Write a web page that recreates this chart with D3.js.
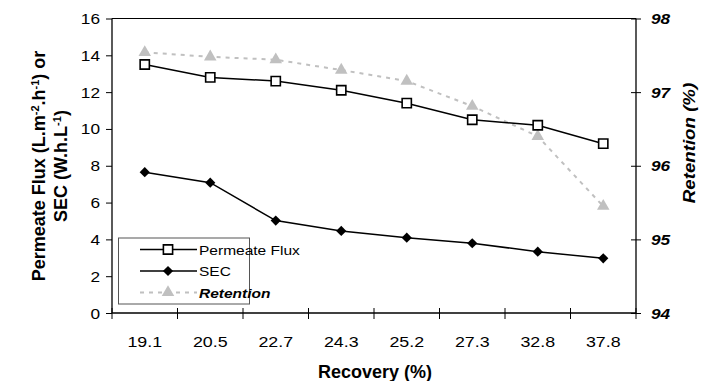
<!DOCTYPE html>
<html>
<head>
<meta charset="utf-8">
<script src="https://cdn.jsdelivr.net/npm/d3@7"></script>
<style>
  body { margin: 0; background: #fff; }
  text { font-family: "Liberation Sans", Arial, sans-serif; }
</style>
</head>
<body>
<div id="chart"></div>
<script>
const recovery = ['19.1', '20.5', '22.7', '24.3', '25.2', '27.3', '32.8', '37.8'];
const permeateFlux = [13.5, 12.8, 12.6, 12.1, 11.4, 10.5, 10.2, 9.2];
const sec = [7.65, 7.08, 5.02, 4.46, 4.09, 3.79, 3.33, 2.97];
const retention = [97.54, 97.48, 97.44, 97.30, 97.15, 96.81, 96.40, 95.45];
const leftTicks = [0, 2, 4, 6, 8, 10, 12, 14, 16];
const rightTicks = [94, 95, 96, 97, 98];

const width = 704, height = 381;
const m = { left: 112, right: 636, top: 18.5, bottom: 313 };
const sx = 1.15; // tick text in the picture is stretched sideways

const svg = d3.select('#chart').append('svg')
  .attr('width', width)
  .attr('height', height);

const x = d3.scaleBand().domain(recovery).range([m.left, m.right]);
const y = d3.scaleLinear().domain([0, 16]).range([m.bottom, m.top]);
const y2 = d3.scaleLinear().domain([94, 98]).range([m.bottom, m.top]);
const cx = d => x(d) + x.bandwidth() / 2;

// text helper, optional sideways stretch
function label(g, tx, ty, str, opts) {
  const s = opts.sx == null ? sx : opts.sx;
  const t = g.append('text')
    .attr('transform', `translate(${tx},${ty})` + (opts.rot ? ' rotate(-90)' : '') + ` scale(${s},1)`)
    .attr('text-anchor', opts.anchor || 'start')
    .attr('font-size', opts.size || 15)
    .attr('font-weight', opts.bold ? 'bold' : 'normal')
    .attr('font-style', opts.italic ? 'italic' : 'normal')
    .attr('fill', '#000');
  if (opts.html) t.html(str); else t.text(str);
  return t;
}

// frame
svg.append('line').attr('x1', m.left).attr('x2', m.right).attr('y1', m.top).attr('y2', m.top)
  .attr('stroke', '#000').attr('stroke-width', 1);

// left axis
const gl = svg.append('g').attr('transform', `translate(${m.left},0)`);
gl.call(d3.axisLeft(y).tickValues(leftTicks).tickSize(6).tickFormat(''));
gl.select('.domain').attr('stroke-width', 1.3).attr('d', `M0,${m.top}V${m.bottom}`);
leftTicks.forEach(v => label(svg, m.left - 12, y(v) + 5.5, v, { anchor: 'end', size: 15 }));

// right axis
const gr = svg.append('g').attr('transform', `translate(${m.right},0)`);
gr.call(d3.axisRight(y2).tickValues(rightTicks).tickSize(5).tickFormat(''));
gr.selectAll('.tick line').attr('x1', -5);
gr.select('.domain').attr('stroke-width', 1.3).attr('d', `M0,${m.top}V${m.bottom}`);
rightTicks.forEach(v => label(svg, m.right + 15, y2(v) + 5.5, v, { size: 15, bold: true, italic: true }));

// bottom axis, ticks at category boundaries
const xb = svg.append('g');
xb.append('line').attr('x1', m.left).attr('x2', m.right).attr('y1', m.bottom).attr('y2', m.bottom)
  .attr('stroke', '#000').attr('stroke-width', 1.3);
xb.selectAll('.xt').data(recovery.concat(['end']))
  .enter().append('line')
  .attr('x1', (d, i) => i < recovery.length ? x(d) : m.right)
  .attr('x2', (d, i) => i < recovery.length ? x(d) : m.right)
  .attr('y1', m.bottom - 5).attr('y2', m.bottom + 6)
  .attr('stroke', '#000').attr('stroke-width', 1);
recovery.forEach(d => label(svg, cx(d), 346.5, d, { anchor: 'middle', size: 15.5 }));

// axis titles
label(svg, 375, 378, 'Recovery (%)', { anchor: 'middle', size: 18, bold: true, sx: 1 });
label(svg, 44.5, 166, 'Permeate Flux (L.m<tspan dy="-6" font-size="11">-2</tspan><tspan dy="6">.h</tspan><tspan dy="-6" font-size="11">-1</tspan><tspan dy="6">) or</tspan>',
  { anchor: 'middle', size: 18, bold: true, rot: true, html: true, sx: 1 });
label(svg, 67, 166, 'SEC (W.h.L<tspan dy="-6" font-size="11">-1</tspan><tspan dy="6">)</tspan>',
  { anchor: 'middle', size: 18, bold: true, rot: true, html: true, sx: 1 });
label(svg, 695, 143, 'Retention (%)', { anchor: 'middle', size: 17, bold: true, italic: true, rot: true, sx: 1.1 });

// series
const lineL = d3.line().x((d, i) => cx(recovery[i])).y(d => y(d));
const lineR = d3.line().x((d, i) => cx(recovery[i])).y(d => y2(d));
const sqr = d3.symbol().type(d3.symbolSquare).size(85);
const dia = d3.symbol().type(d3.symbolSquare).size(52);   // rotated 45 below
const tri = d3.symbol().type(d3.symbolTriangle).size(68);

svg.append('path').datum(retention).attr('d', lineR)
  .attr('fill', 'none').attr('stroke', '#c0c0c0').attr('stroke-width', 2).attr('stroke-dasharray', '4,5');
svg.append('path').datum(permeateFlux).attr('d', lineL)
  .attr('fill', 'none').attr('stroke', '#000').attr('stroke-width', 1.5);
svg.append('path').datum(sec).attr('d', lineL)
  .attr('fill', 'none').attr('stroke', '#000').attr('stroke-width', 1.5);

svg.selectAll('.tri').data(retention).enter().append('path')
  .attr('transform', (d, i) => `translate(${cx(recovery[i])},${y2(d)})`)
  .attr('d', tri).attr('fill', '#c0c0c0');
svg.selectAll('.sq').data(permeateFlux).enter().append('path')
  .attr('transform', (d, i) => `translate(${cx(recovery[i])},${y(d)})`)
  .attr('d', sqr).attr('fill', '#fff').attr('stroke', '#000').attr('stroke-width', 1.6);
svg.selectAll('.dm').data(sec).enter().append('path')
  .attr('transform', (d, i) => `translate(${cx(recovery[i])},${y(d)}) rotate(45)`)
  .attr('d', dia).attr('fill', '#000');

// legend
const lg = svg.append('g');
lg.append('rect').attr('x', 118.5).attr('y', 238).attr('width', 131).attr('height', 66)
  .attr('fill', '#fff').attr('stroke', '#555').attr('stroke-width', 1);
const items = [
  { name: 'Permeate Flux', y: 249.5, color: '#000', dash: null, sym: sqr, fill: '#fff', stroke: '#000', rot: 0, bi: false },
  { name: 'SEC', y: 271, color: '#000', dash: null, sym: dia, fill: '#000', stroke: 'none', rot: 45, bi: false },
  { name: 'Retention', y: 292.5, color: '#c0c0c0', dash: '4,5', sym: tri, fill: '#c0c0c0', stroke: 'none', rot: 0, bi: true }
];
items.forEach(it => {
  lg.append('line').attr('x1', 140).attr('x2', 197).attr('y1', it.y).attr('y2', it.y)
    .attr('stroke', it.color).attr('stroke-width', it.dash ? 2 : 1.5).attr('stroke-dasharray', it.dash);
  lg.append('path').attr('transform', `translate(168,${it.y}) rotate(${it.rot})`).attr('d', it.sym)
    .attr('fill', it.fill).attr('stroke', it.stroke).attr('stroke-width', 1.6);
  label(lg, 199, it.y + 5, it.name, { size: 13.5, bold: it.bi, italic: it.bi });
});
</script>
</body>
</html>
